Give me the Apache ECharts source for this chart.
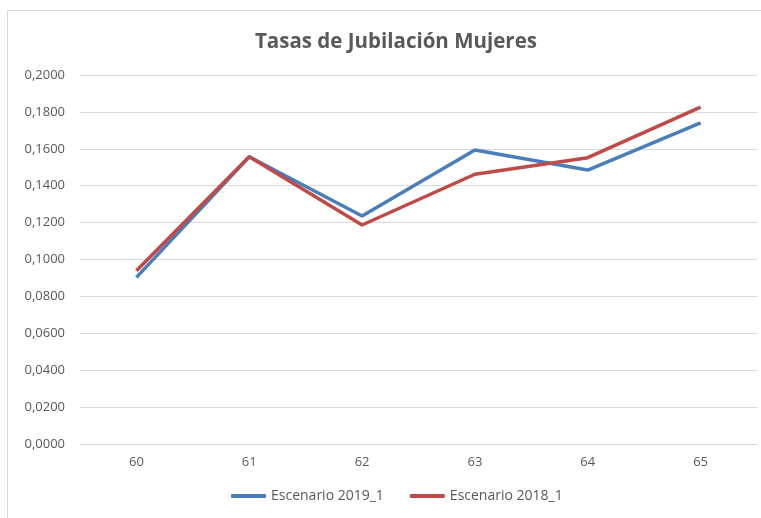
<!DOCTYPE html>
<html>
<head>
<meta charset="utf-8">
<script src="https://cdn.jsdelivr.net/npm/echarts@6/dist/echarts.min.js"></script>
<style>
  html, body { margin: 0; padding: 0; background: #fff; }
  #chart { width: 761px; height: 518px; }
</style>
</head>
<body>
<div id="chart"></div>
<script>
// edades
var categories = ['60', '61', '62', '63', '64', '65']
var escenario2019 = [0.0903, 0.1557, 0.1236, 0.1593, 0.1485, 0.1741]
var escenario2018 = [0.0939, 0.1557, 0.1187, 0.1462, 0.1552, 0.1826]
var seriesNames = ['Escenario 2019_1', 'Escenario 2018_1']

var myChart = echarts.init(document.getElementById('chart'))
var option = {
  color: ['#4a7ebb', '#be4b48'],
  textStyle: { fontFamily: 'Open Sans, Liberation Sans, sans-serif' },
  // marco del gráfico
  graphic: [{
    type: 'rect',
    shape: { x: 7.5, y: 10.5, width: 760, height: 520 },
    style: { fill: 'none', stroke: '#d9d9d9', lineWidth: 1 },
    silent: true
  }],
  title: {
    text: 'Tasas de Jubilación Mujeres',
    left: 250,
    top: 27,
    textStyle: { color: '#595959', fontSize: 20.5, fontWeight: 'bold' }
  },
  legend: {
    bottom: 10,
    left: 226,
    itemWidth: 35,
    itemHeight: 4,
    itemGap: 26,
    icon: 'roundRect',
    textStyle: { color: '#595959', fontSize: 14 },
    data: seriesNames
  },
  grid: { left: 80, right: 4, top: 75, bottom: 74 },
  xAxis: {
    type: 'category',
    data: categories,
    boundaryGap: true,
    axisTick: { show: false },
    axisLine: { lineStyle: { color: '#d9d9d9' } },
    axisLabel: { color: '#595959', fontSize: 13, margin: 12 }
  },
  yAxis: {
    type: 'value',
    min: 0,
    max: 0.2,
    interval: 0.02,
    axisLabel: {
      color: '#595959',
      fontSize: 13,
      margin: 15,
      formatter: function (v) { return v.toFixed(4).replace('.', ',') }
    },
    axisLine: { show: false },
    splitLine: { lineStyle: { color: '#d9d9d9' } }
  },
  series: [
    {
      name: seriesNames[0],
      type: 'line',
      data: escenario2019,
      showSymbol: false,
      lineStyle: { width: 3.5 }
    },
    {
      name: seriesNames[1],
      type: 'line',
      data: escenario2018,
      showSymbol: false,
      lineStyle: { width: 3.5 }
    }
  ]
}
myChart.setOption(option)
</script>
</body>
</html>
